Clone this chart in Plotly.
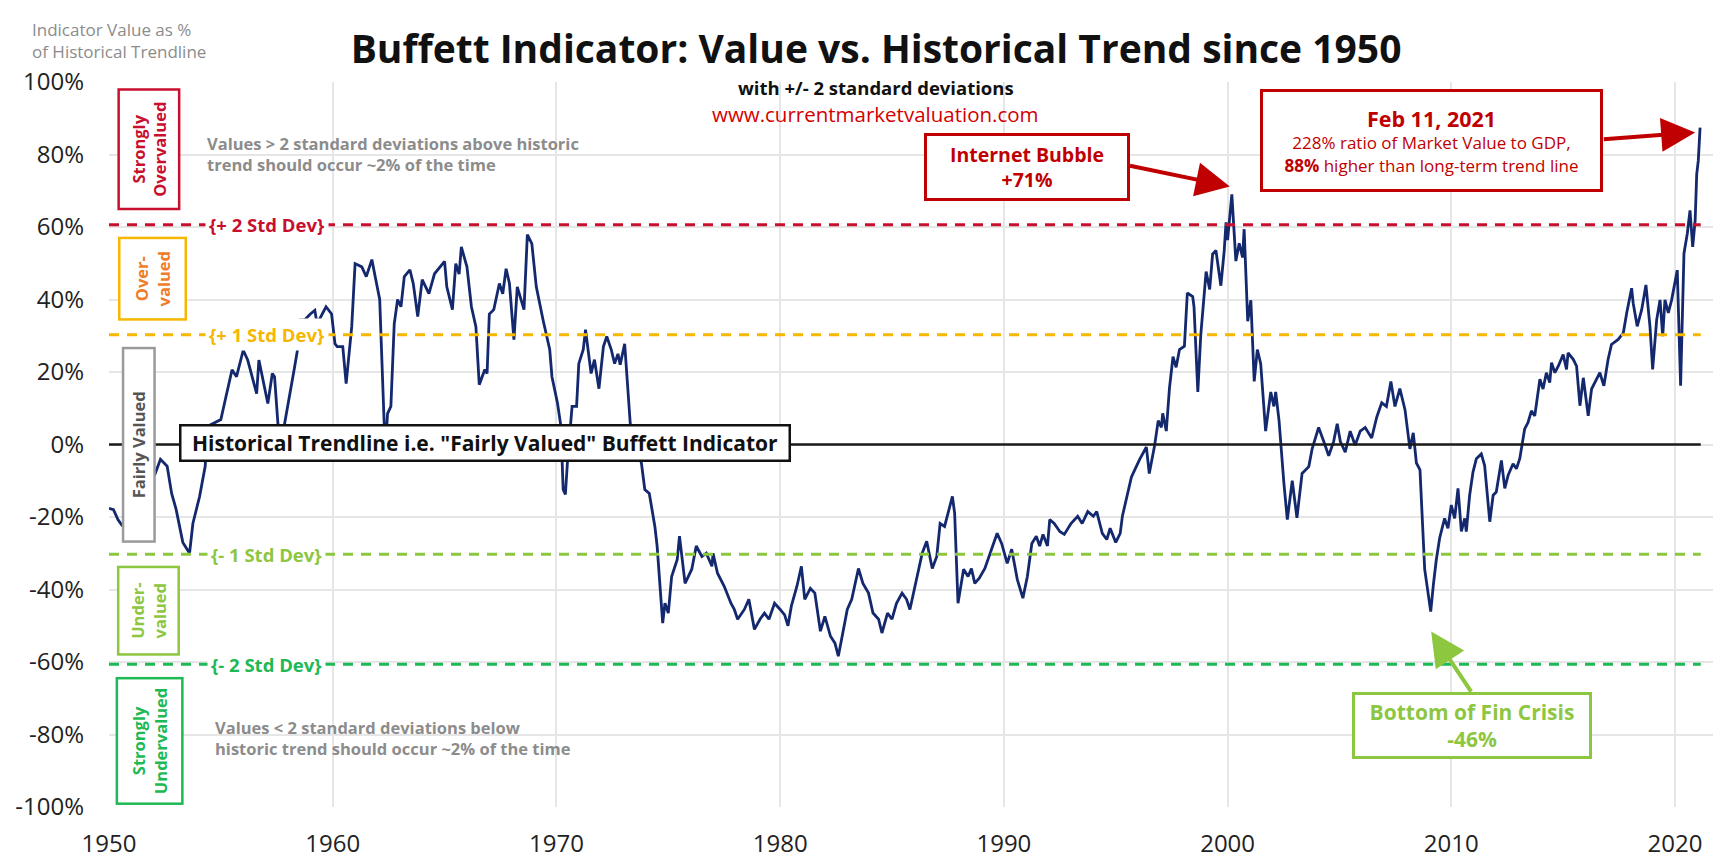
import plotly.graph_objects as go

# Buffett indicator, % above/below historical trendline
years = [
    1950.0, 1950.2, 1950.4, 1950.6, 1951.0, 1951.5, 1952.05, 1952.3, 1952.6, 1952.8,
    1953.0, 1953.3, 1953.6, 1953.75, 1954.05, 1954.3, 1954.4, 1955.0, 1955.2, 1955.5,
    1955.7, 1956.0, 1956.2, 1956.4, 1956.6, 1956.7, 1957.1, 1957.3, 1957.4, 1957.55,
    1957.7, 1957.85, 1958.1, 1958.3, 1958.45, 1958.47, 1958.5, 1958.75, 1959.0, 1959.2, 1959.3,
    1959.7, 1959.95, 1960.1, 1960.2, 1960.45, 1960.6, 1960.85, 1961.0, 1961.3, 1961.5,
    1961.75, 1961.9, 1962.1, 1962.3, 1962.38, 1962.45, 1962.6, 1962.75, 1962.9, 1963.05,
    1963.2, 1963.45, 1963.6, 1963.8, 1964.0, 1964.3, 1964.55, 1965.0, 1965.1, 1965.35,
    1965.5, 1965.65, 1965.75, 1966.0, 1966.2, 1966.4, 1966.55, 1966.8, 1966.9, 1967.0,
    1967.2, 1967.45, 1967.6, 1967.75, 1967.9, 1968.1, 1968.25, 1968.55, 1968.7, 1968.9,
    1969.1, 1969.4, 1969.7, 1969.8, 1970.05, 1970.2, 1970.3, 1970.4, 1970.5, 1970.7,
    1970.9, 1971.0, 1971.2, 1971.3, 1971.55, 1971.7, 1971.9, 1972.1, 1972.25, 1972.45,
    1972.6, 1972.75, 1972.85, 1973.05, 1973.2, 1973.3, 1973.8, 1973.95, 1974.15, 1974.4,
    1974.5, 1974.75, 1974.85, 1975.0, 1975.15, 1975.4, 1975.5, 1975.75, 1976.05, 1976.25,
    1976.5, 1976.7, 1976.95, 1977.0, 1977.2, 1977.5, 1977.8, 1977.95, 1978.1, 1978.4,
    1978.6, 1978.85, 1979.1, 1979.3, 1979.5, 1979.75, 1980.0, 1980.2, 1980.35, 1980.5,
    1980.75, 1980.95, 1981.1, 1981.35, 1981.55, 1981.8, 1982.0, 1982.25, 1982.45, 1982.6,
    1982.8, 1983.0, 1983.2, 1983.5, 1983.7, 1983.95, 1984.15, 1984.4, 1984.55, 1984.8,
    1985.0, 1985.2, 1985.45, 1985.65, 1985.8, 1986.1, 1986.35, 1986.55, 1986.8, 1987.0,
    1987.15, 1987.35, 1987.5, 1987.7, 1987.8, 1987.95, 1988.2, 1988.4, 1988.55, 1988.7,
    1988.9, 1989.15, 1989.45, 1989.7, 1989.9, 1990.15, 1990.35, 1990.6, 1990.85, 1991.05,
    1991.25, 1991.45, 1991.6, 1991.75, 1991.95, 1992.05, 1992.25, 1992.5, 1992.7, 1993.0,
    1993.3, 1993.5, 1993.75, 1994.0, 1994.15, 1994.4, 1994.6, 1994.75, 1995.0, 1995.2,
    1995.3, 1995.5, 1995.7, 1995.85, 1996.07, 1996.37, 1996.5, 1996.74, 1996.9, 1997.04,
    1997.1, 1997.26, 1997.4, 1997.56, 1997.7, 1997.85, 1998.07, 1998.2, 1998.44, 1998.5,
    1998.67, 1998.8, 1999.04, 1999.2, 1999.33, 1999.48, 1999.7, 1999.85, 1999.93, 2000.0,
    2000.19, 2000.37, 2000.52, 2000.67, 2000.74, 2000.9, 2001.04, 2001.19, 2001.33, 2001.48,
    2001.7, 2001.93, 2002.07, 2002.15, 2002.3, 2002.52, 2002.67, 2002.89, 2003.1, 2003.33,
    2003.63, 2003.78, 2004.07, 2004.3, 2004.52, 2004.74, 2004.9, 2005.04, 2005.26, 2005.48,
    2005.7, 2005.93, 2006.15, 2006.44, 2006.67, 2006.89, 2007.1, 2007.3, 2007.48, 2007.7,
    2007.93, 2008.15, 2008.3, 2008.44, 2008.6, 2008.81, 2009.08, 2009.2, 2009.33, 2009.48,
    2009.7, 2009.85, 2010.0, 2010.15, 2010.3, 2010.45, 2010.6, 2010.67, 2010.82, 2010.97,
    2011.12, 2011.34, 2011.49, 2011.72, 2011.87, 2012.01, 2012.24, 2012.39, 2012.54, 2012.76,
    2012.91, 2013.06, 2013.28, 2013.43, 2013.58, 2013.73, 2013.96, 2014.1, 2014.25, 2014.4,
    2014.48, 2014.63, 2014.78, 2015.0, 2015.15, 2015.22, 2015.45, 2015.6, 2015.75, 2015.9,
    2016.12, 2016.27, 2016.49, 2016.64, 2016.82, 2017.01, 2017.16, 2017.46, 2017.69, 2017.84,
    2018.06, 2018.13, 2018.31, 2018.51, 2018.7, 2018.88, 2019.0, 2019.18, 2019.33, 2019.45,
    2019.55, 2019.7, 2019.85, 2020.0, 2020.1, 2020.25, 2020.4, 2020.55, 2020.67, 2020.79,
    2020.9, 2020.97, 2021.04, 2021.12,
]
# None = small break visible in the source line around mid-1958
pct_vs_trend = [
    -17.6, -18.0, -20.7, -22.5, -17.0, -12.0, -8.3, -4.1, -6.0, -13.5,
    -17.9, -27.0, -30.0, -21.8, -14.3, -6.0, 5.0, 6.9, 12.4, 20.6,
    18.7, 26.0, 23.3, 18.7, 14.0, 23.3, 11.3, 19.6, 18.7, 5.8,
    0.5, 5.8, 14.0, 21.5, 27.0, None, 34.4, 34.4, 36.0, 37.0, 33.3,
    38.0, 36.0, 27.8, 27.0, 27.0, 16.8, 32.5, 49.9, 49.0, 46.3,
    51.0, 46.3, 40.0, 5.8, 1.0, 8.5, 10.5, 33.3, 40.0, 38.0,
    46.3, 48.2, 44.4, 35.3, 45.5, 41.6, 47.1, 50.5, 43.5, 37.2,
    49.9, 47.0, 54.5, 49.0, 38.0, 32.5, 16.5, 20.7, 19.6, 36.0,
    37.2, 44.4, 41.6, 48.5, 44.4, 28.9, 43.5, 37.2, 57.9, 55.4,
    43.5, 34.4, 26.2, 18.7, 11.3, 5.0, -12.4, -13.8, -4.1, 10.5,
    10.5, 22.3, 26.2, 31.7, 19.6, 23.4, 15.4, 27.0, 29.8, 26.2,
    22.3, 25.0, 22.0, 27.8, 13.2, 5.8, -5.2, -12.4, -13.5, -22.6,
    -28.0, -49.3, -43.8, -46.5, -36.4, -31.7, -25.3, -38.3, -34.4, -28.0,
    -30.9, -30.0, -33.6, -30.0, -35.5, -39.1, -43.8, -45.5, -48.2, -45.5,
    -42.7, -51.0, -48.2, -46.5, -48.2, -43.8, -45.5, -47.0, -50.0, -44.6,
    -39.1, -33.6, -42.7, -39.7, -41.0, -51.5, -47.4, -52.9, -54.8, -58.4,
    -52.0, -45.5, -42.7, -34.2, -38.3, -41.0, -46.5, -48.2, -52.0, -46.5,
    -48.2, -43.8, -41.0, -42.7, -45.5, -37.2, -30.0, -26.7, -34.2, -30.9,
    -21.8, -22.6, -19.0, -14.3, -19.0, -43.8, -34.4, -36.4, -34.2, -38.3,
    -36.9, -34.2, -28.9, -24.5, -27.3, -32.8, -28.9, -37.2, -42.4, -36.4,
    -27.3, -25.3, -28.0, -24.8, -28.0, -20.7, -21.8, -24.0, -24.8, -21.8,
    -19.8, -21.8, -18.5, -19.8, -18.5, -24.5, -26.2, -23.1, -27.0, -24.5,
    -19.7, -13.9, -9.0, -7.0, -4.1, -0.7, -8.0, -0.2, 6.6, 4.7,
    8.6, 3.7, 15.4, 24.2, 21.3, 26.2, 27.1, 41.8, 40.8, 37.9,
    14.5, 30.1, 47.7, 42.8, 52.5, 53.5, 43.8, 53.5, 61.3, 56.4,
    69.0, 50.6, 55.5, 51.6, 59.4, 34.0, 39.8, 17.4, 26.2, 22.3,
    3.7, 14.5, 10.5, 14.5, 6.6, -10.9, -20.7, -10.0, -20.2, -8.0,
    -6.1, -1.2, 4.7, 0.8, -3.1, 0.8, 5.7, 0.8, -2.1, 3.7,
    -0.2, 3.7, 4.7, 1.8, 7.6, 11.5, 10.5, 17.4, 10.5, 15.4,
    9.6, -1.2, 3.2, -5.1, -7.0, -34.4, -46.1, -38.6, -31.8, -25.8,
    -20.4, -23.1, -16.7, -20.4, -12.1, -24.0, -20.4, -24.0, -14.0, -7.6,
    -3.9, -2.6, -5.8, -21.3, -14.0, -13.1, -4.4, -12.1, -8.5, -5.3,
    -6.7, -3.9, 4.3, 6.1, 9.3, 7.9, 18.0, 15.3, 19.8, 17.1,
    22.6, 19.8, 21.6, 24.8, 20.7, 25.3, 23.5, 21.6, 10.7, 18.4,
    7.9, 15.3, 18.0, 19.8, 16.2, 23.5, 27.6, 29.0, 30.8, 36.3,
    43.1, 39.0, 32.6, 37.2, 44.0, 32.6, 20.7, 34.4, 39.9, 29.9,
    39.9, 36.3, 39.9, 45.4, 48.1, 16.2, 52.7, 58.2, 64.6, 54.5,
    61.8, 74.6, 78.3, 87.4,
]

# standard deviation bands (% vs trend)
band_levels = [60.6, 30.3, -30.3, -60.6]
band_labels = ["{+ 2 Std Dev}", "{+ 1 Std Dev}", "{- 1 Std Dev}", "{- 2 Std Dev}"]
band_colors = ["#c8102e", "#f5b700", "#8dc63f", "#1db954"]

x_ticks = [1950, 1960, 1970, 1980, 1990, 2000, 2010, 2020]
y_ticks = [-100, -80, -60, -40, -20, 0, 20, 40, 60, 80, 100]
y_tick_text = [f"{v}%" for v in y_ticks]

FONT = "Open Sans"
NAVY = "#14286e"
RED = "#c00000"
GREY = "#8c8c8c"

fig = go.Figure()
fig.add_trace(go.Scatter(x=years, y=pct_vs_trend, mode="lines", connectgaps=False,
                         line=dict(color=NAVY, width=2.8), hoverinfo="skip"))

line_end = 2021.15
for lvl, lab, col in zip(band_levels, band_labels, band_colors):
    fig.add_shape(type="line", x0=1950, x1=line_end, y0=lvl, y1=lvl,
                  line=dict(color=col, width=3, dash="10px,8px"), layer="above")
    fig.add_annotation(x=1957.05, y=lvl, text=f"<b>{lab}</b>", showarrow=False,
                       font=dict(family=FONT, size=18.5, color=col),
                       bgcolor="white", borderpad=3)

# trendline at 0
fig.add_shape(type="line", x0=1950, x1=line_end, y0=0, y1=0,
              line=dict(color="#1a1a1a", width=2.5), layer="above")
fig.add_annotation(x=1966.8, y=0.4, showarrow=False,
                   text='<b>Historical Trendline i.e. "Fairly Valued" Buffett Indicator</b>',
                   font=dict(family=FONT, size=21, color="#111"),
                   bgcolor="white", bordercolor="#111", borderwidth=2.5,
                   width=605, height=31)

# valuation zone boxes on the left (vertical text)
zones = [
    ("<b>Strongly<br>Overvalued</b>", 81.4, "#c8102e", "#c8102e", 115, 56),
    ("<b>Over-<br>valued</b>", 45.7, "#f07d2a", "#f5b700", 77, 62),
    ("<b>Fairly Valued</b>", 0.0, "#555555", "#9a9a9a", 189, 27),
    ("<b>Under-<br>valued</b>", -45.9, "#8dc63f", "#8dc63f", 83, 56),
    ("<b>Strongly<br>Undervalued</b>", -81.7, "#1db954", "#1db954", 121, 61),
]
zone_x = [1951.78, 1951.96, 1951.31, 1951.78, 1951.8]
for (txt, yv, fc, bc, w, h), xv in zip(zones, zone_x):
    fig.add_annotation(x=xv, y=yv, text=txt, showarrow=False, textangle=-90,
                       font=dict(family=FONT, size=16.5, color=fc),
                       bgcolor="white", bordercolor=bc, borderwidth=2.5,
                       width=w, height=h)

fig.add_annotation(x=1954.27, y=80.2, xanchor="left", align="left", showarrow=False,
                   text="<b>Values > 2 standard deviations above historic<br>trend should occur ~2% of the time</b>",
                   font=dict(family=FONT, size=16.5, color=GREY))
fig.add_annotation(x=1954.63, y=-80.9, xanchor="left", align="left", showarrow=False,
                   text="<b>Values < 2 standard deviations below<br>historic trend should occur ~2% of the time</b>",
                   font=dict(family=FONT, size=16.5, color=GREY))

# callouts
fig.add_annotation(x=1991.03, y=76.5, showarrow=False,
                   text="<b>Internet Bubble<br>+71%</b>",
                   font=dict(family=FONT, size=19.5, color=RED),
                   bgcolor="white", bordercolor=RED, borderwidth=3, width=198, height=60)
fig.add_annotation(x=2000.1, y=71.2, ax=1995.57, ay=77.0, axref="x", ayref="y",
                   text="", showarrow=True, arrowhead=2, arrowsize=1.7,
                   arrowwidth=4, arrowcolor=RED)

fig.add_annotation(x=2009.12, y=83.8, showarrow=False,
                   text="<b><span style='font-size:21.5px'>Feb 11, 2021</span></b><br>"
                        "228% ratio of Market Value to GDP,<br>"
                        "<b>88%</b> higher than long-term trend line",
                   font=dict(family=FONT, size=17, color=RED),
                   bgcolor="white", bordercolor=RED, borderwidth=3, width=335, height=95)
fig.add_annotation(x=2020.9, y=86.1, ax=2016.75, ay=84.2, axref="x", ayref="y",
                   text="", showarrow=True, arrowhead=2, arrowsize=1.7,
                   arrowwidth=4, arrowcolor=RED)

fig.add_annotation(x=2010.93, y=-77.4, showarrow=False,
                   text="<b>Bottom of Fin Crisis<br>-46%</b>",
                   font=dict(family=FONT, size=21, color="#8dc63f"),
                   bgcolor="white", bordercolor="#8dc63f", borderwidth=3, width=232, height=59)
fig.add_annotation(x=2009.1, y=-51.6, ax=2010.93, ay=-68.6, axref="x", ayref="y",
                   text="", showarrow=True, arrowhead=2, arrowsize=1.7,
                   arrowwidth=4, arrowcolor="#8dc63f")

# header texts
fig.add_annotation(xref="paper", yref="paper", x=0.4753, y=0.9918, yanchor="middle",
                   showarrow=False, text="<b>with +/- 2 standard deviations</b>",
                   font=dict(family=FONT, size=18.5, color="#111"))
fig.add_annotation(xref="paper", yref="paper", x=0.4753, y=0.9561, yanchor="middle",
                   showarrow=False, text="www.currentmarketvaluation.com",
                   font=dict(family=FONT, size=20.5, color="#d40000"))
fig.add_annotation(xref="paper", yref="paper", x=-0.0488, y=1.0576, xanchor="left",
                   yanchor="middle", align="left", showarrow=False,
                   text="Indicator Value as %<br>of Historical Trendline",
                   font=dict(family=FONT, size=17, color=GREY))

fig.update_layout(
    width=1721, height=858,
    margin=dict(l=94, r=7, t=74, b=55),
    paper_bgcolor="white", plot_bgcolor="white",
    showlegend=False,
    title=dict(text="<b>Buffett Indicator: Value vs. Historical Trend since 1950</b>",
               x=0.5044, xanchor="center", y=0.9522, yanchor="middle", xref="container",
               yref="container", font=dict(family=FONT, size=39, color="#111")),
    xaxis=dict(range=[1950, 2022.1], tickvals=x_ticks, showgrid=True,
               gridcolor="#e6e6e6", gridwidth=1.5, zeroline=False, showline=False,
               ticks="", ticklabelstandoff=20,
               tickfont=dict(family=FONT, size=24, color="#222")),
    yaxis=dict(range=[-100, 100], tickvals=y_ticks, ticktext=y_tick_text, showgrid=True,
               gridcolor="#e6e6e6", gridwidth=1.5, zeroline=False, showline=False,
               ticks="", ticklabelstandoff=24,
               tickfont=dict(family=FONT, size=24, color="#222")),
)

fig.write_html("out.html")
